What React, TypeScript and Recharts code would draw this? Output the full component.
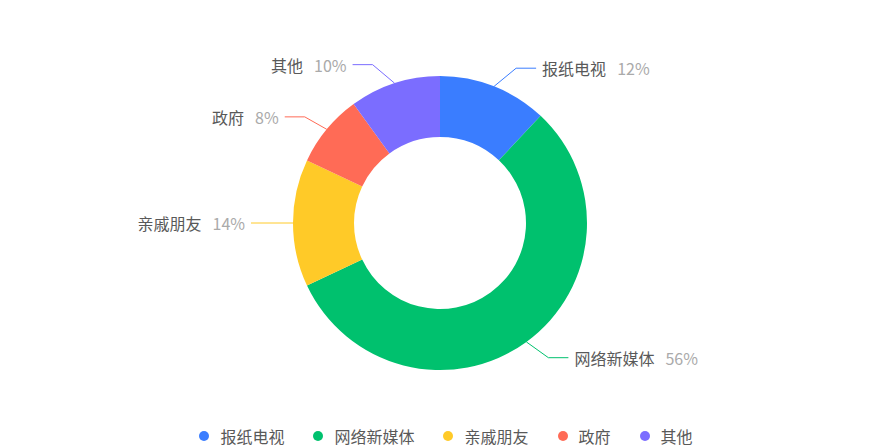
import { PieChart, Pie, Cell, Legend } from "recharts";

const names = ["报纸电视", "网络新媒体", "亲戚朋友", "政府", "其他"];
const values = [12, 56, 14, 8, 10];
const colors = ["#3a7dff", "#00c16e", "#ffca28", "#ff6b56", "#7b6dff"];

const data = names.map((name, i) => ({ name, value: values[i] }));

const FONT = "'Noto Sans CJK SC', 'Noto Sans', sans-serif";
const RAD = Math.PI / 180;

function renderLabel(props: any) {
  const { cx, cy, midAngle, outerRadius, index, name, value } = props;
  const c = Math.cos(-midAngle * RAD);
  const s = Math.sin(-midAngle * RAD);
  const sign = c >= -0.001 ? 1 : -1;
  const sx = cx + outerRadius * c;
  const sy = cy + outerRadius * s;
  const ex = sx + sign * 22;
  const ey = sy + s * 19.5;
  const tx = ex + sign * 20;
  const color = colors[index % colors.length];
  return (
    <g>
      <polyline points={`${sx},${sy} ${ex},${ey} ${tx},${ey}`} fill="none" stroke={color} strokeWidth={1} />
      <text
        x={tx + sign * 6}
        y={ey}
        textAnchor={sign > 0 ? "start" : "end"}
        dominantBaseline="central"
        fontFamily={FONT}
        fontSize={16}
      >
        <tspan fill="#595959">{name}</tspan>
        <tspan fill="#aaaaaa" dx={11}>{`${value}%`}</tspan>
      </text>
    </g>
  );
}

function LegendContent() {
  return (
    <div style={{ display: "flex", justifyContent: "center", alignItems: "center", height: 20, fontFamily: FONT, fontSize: 16, color: "#595959", paddingLeft: 12 }}>
      {names.map((n, i) => (
        <div key={n} style={{ display: "flex", alignItems: "center", marginRight: i < names.length - 1 ? 29 : 0 }}>
          <span style={{ width: 10, height: 10, borderRadius: 5, background: colors[i], marginRight: 11, display: "inline-block" }} />
          <span style={{ display: "inline-block", lineHeight: "16px", height: 16 }}>{n}</span>
        </div>
      ))}
    </div>
  );
}

export default function App() {
  return (
    <div style={{ position: "absolute", left: 0, top: 0, width: 880, height: 448, background: "#fff" }}>
      <PieChart width={880} height={448} margin={{ top: 0, right: 0, bottom: 0, left: 0 }}>
        <Pie
          data={data}
          dataKey="value"
          nameKey="name"
          cx={440}
          cy={223}
          innerRadius={86}
          outerRadius={147}
          startAngle={90}
          endAngle={-270}
          stroke="none"
          label={renderLabel}
          labelLine={false}
          isAnimationActive={false}
        >
          {data.map((d, i) => (
            <Cell key={d.name} fill={colors[i]} />
          ))}
        </Pie>
        <Legend verticalAlign="bottom" content={<LegendContent />} wrapperStyle={{ bottom: 2, left: 0, width: 880, height: 20 }} />
      </PieChart>
    </div>
  );
}
